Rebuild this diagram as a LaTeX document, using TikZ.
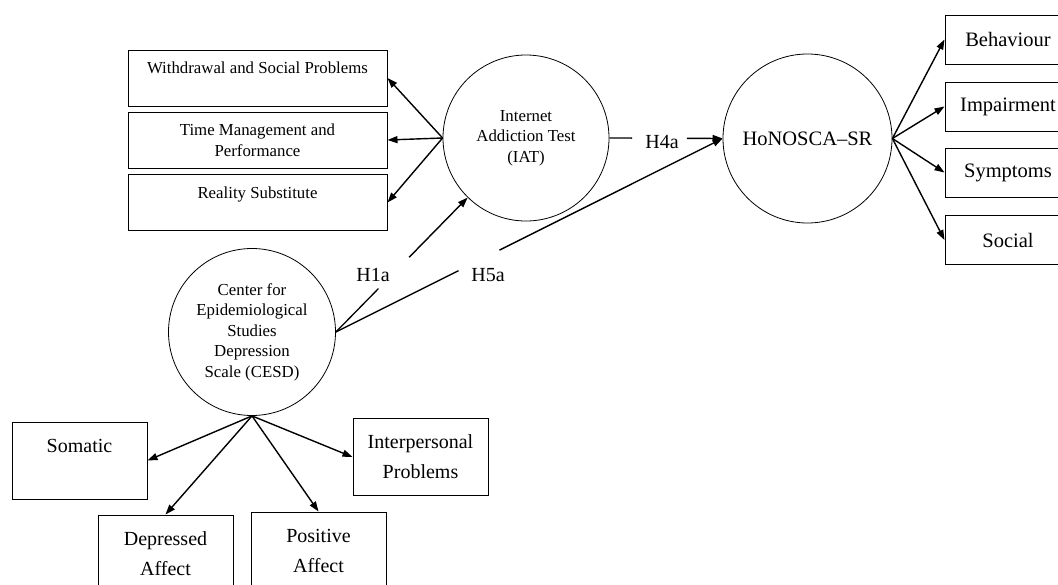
\documentclass[tikz,border=0pt]{standalone}
\usepackage{fontspec}
\setmainfont{Liberation Serif}
\usetikzlibrary{arrows.meta}
\newcommand\txtS{\fontsize{16.8}{20.5}\selectfont}
\newcommand\txtM{\fontsize{20.5}{24}\selectfont}
\newcommand\txtL{\fontsize{20}{30}\selectfont}
\tikzset{
  latent/.style={draw, circle, line width=0.8pt, minimum size=#1, inner sep=0pt, align=center},
  itembox/.style={draw, line width=1pt, inner sep=0pt, align=center},
  arr/.style={-{Triangle[length=10pt,width=7pt]}, line width=1.4pt},
  link/.style={line width=1.3pt},
  hyp/.style={font=\txtL, inner sep=0pt}
}
\begin{document}
\begin{tikzpicture}[x=1pt,y=-1pt]
\useasboundingbox (0,0) rectangle (1058,584);
\clip (0,0) rectangle (1058,584);
\node[latent=166pt, font=\txtS] (iat) at (526,138) {Internet\\Addiction Test\\(IAT)};
\node[latent=167pt, font=\txtS] (cesd) at (252,332) {Center for\\Epidemiological\\Studies\\Depression\\Scale (CESD)};
\node[latent=169pt, font=\txtM] (hon) at (807.5,138.5) {HoNOSCA--SR};
\node[itembox, minimum width=259pt, minimum height=56pt, font=\txtS] (wsp) at (257.5,78) {Withdrawal and Social Problems\\\mbox{}};
\node[itembox, minimum width=259pt, minimum height=56pt, font=\txtS] (tmp) at (257.5,140) {Time Management and\\Performance};
\node[itembox, minimum width=259pt, minimum height=56pt, font=\txtS] (rs) at (257.5,202.5) {Reality Substitute\\\mbox{}};
\node[itembox, minimum width=126pt, minimum height=49pt, font=\txtM] (beh) at (1008,39.5) {Behaviour};
\node[itembox, minimum width=126pt, minimum height=49pt, font=\txtM] (imp) at (1008,106.5) {Impairment};
\node[itembox, minimum width=126pt, minimum height=49pt, font=\txtM] (sym) at (1008,172.5) {Symptoms};
\node[itembox, minimum width=126pt, minimum height=49pt, font=\txtM] (soc) at (1008,240) {Social};
\node[itembox, minimum width=135pt, minimum height=77pt, font=\txtL] (som) at (79.5,460.5) {Somatic\\\mbox{}};
\node[itembox, minimum width=135pt, minimum height=77pt, font=\txtL] (dep) at (165.5,553.5) {Depressed\\Affect};
\node[itembox, minimum width=135pt, minimum height=77pt, font=\txtL] (pos) at (318.5,550.5) {Positive\\Affect};
\node[itembox, minimum width=135pt, minimum height=77pt, font=\txtL] (ipp) at (420.5,457) {Interpersonal\\Problems};
\node[hyp] (h1a) at (373,275) {H1a};
\node[hyp] (h5a) at (488,275) {H5a};
\node[hyp] (h4a) at (662,142) {H4a};
\foreach \b in {wsp,tmp,rs}
  \draw[arr] (iat.west) -- (\b.east);
\foreach \b in {beh,imp,sym,soc}
  \draw[arr] (hon.east) -- (\b.west);
\draw[arr] (cesd.south) -- (som.east);
\draw[arr] (cesd.south) -- (dep.north);
\draw[arr] (cesd.south) -- (pos.north);
\draw[arr] (cesd.south) -- (ipp.west);
\path (cesd.east) -- coordinate[pos=.323] (h1aA) coordinate[pos=.556] (h1aB) (iat);
\path (cesd.east) -- coordinate[pos=.317] (h5aA) coordinate[pos=.423] (h5aB) (hon.west);
\path (iat.east) -- coordinate[pos=.2] (h4aA) coordinate[pos=.684] (h4aB) (hon.west);
\draw[link] (cesd.east) -- (h1aA);
\draw[arr] (h1aB) -- (iat);
\draw[link] (cesd.east) -- (h5aA);
\draw[arr] (h5aB) -- (hon.west);
\draw[link] (iat.east) -- (h4aA);
\draw[arr] (h4aB) -- (hon.west);
\end{tikzpicture}
\end{document}
